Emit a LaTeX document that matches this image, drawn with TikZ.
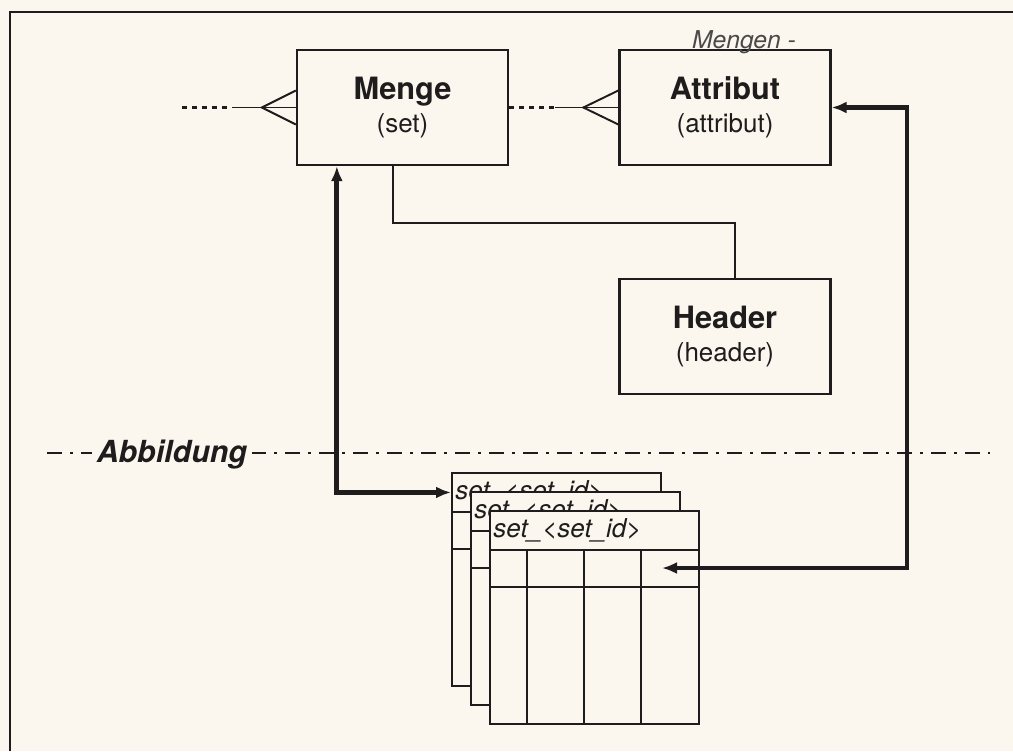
\documentclass[tikz,border=0pt]{standalone}
\usepackage{fontspec}
\setmainfont{TeX Gyre Heros}
\usetikzlibrary{positioning, arrows.meta, calc}
\definecolor{paper}{HTML}{FBF7EE}
\definecolor{ink}{HTML}{1E1C1C}

\begin{document}
\begin{tikzpicture}[x=0.2mm, y=-0.2mm, every node/.style={align=center, text=ink},
    entity/.style={rectangle, draw=ink, line width=1.3pt, minimum width=42.2mm, minimum height=23mm,
        font=\fontsize{14.8}{18.7}\selectfont},
    relline/.style={draw=ink, line width=1.1pt},
    optline/.style={draw=ink, line width=1.3pt, dash pattern=on 1mm off 1mm},
    mapline/.style={draw=ink, line width=2.8pt,
        {Latex[length=3mm,width=2.4mm]}-{Latex[length=3mm,width=2.4mm]}},
    sheet/.style={rectangle, draw=ink, fill=paper, line width=1.1pt, minimum width=41.8mm, minimum height=42.6mm},
    sheethead/.style={rectangle, draw=ink, line width=1.1pt, minimum width=41.8mm, minimum height=7.8mm,
        text width=40.4mm, inner xsep=0.7mm, align=left, font=\fontsize{14.8}{16}\selectfont\itshape}]

        % Paper and frame
        \fill[paper] (0,0) rectangle (1013,751);
        \useasboundingbox (0,0) rectangle (1013,751);
        \draw[ink, line width=1.1pt] (10,751) -- (10,12) -- (1013,12);

        % Entities
        \node (menge) [entity] at (402.5,107.5)
        {{\fontsize{17.5}{18.7}\selectfont\bfseries Menge}\\(set)};
        \node (attr) [entity] at (725,107.5)
        {{\fontsize{17.5}{18.7}\selectfont\bfseries Attribut}\\(attribut)};
        \node (header) [entity] at (725,336.5)
        {{\fontsize{17.5}{18.7}\selectfont\bfseries Header}\\(header)};

        % Handwritten note
        \node (note) [font=\fontsize{14}{14}\selectfont\itshape, text=ink!80] at (744,42) {Mengen -};

        % Crow's feet
        \draw[relline] (menge.west) -- ++(-64,0) coordinate (mtail);
        \draw[optline] (mtail) ++(-5,0) -- ++(-46,0);
        \draw[relline] (menge.west) ++(0,-17) -- ++(-34,17) -- ++(34,17);
        \draw[optline] (menge.east) -- ++(47,0);
        \draw[relline] (attr.west) -- ++(-63,0);
        \draw[relline] (attr.west) ++(0,-17) -- ++(-35,17) -- ++(35,17);

        % Menge to Header
        \draw[relline] ($(menge.south)+(-9.5,0)$) -- ++(0,57) -| ($(header.north)+(10,0)$);

        % Divider
        \coordinate (divw) at (47,453);
        \coordinate (dive) at (990,453);
        \draw[ink, line width=1.1pt, dash pattern=on 3mm off 1.6mm on 0.6mm off 1.6mm] (divw) -- (dive);
        \node (abb) [fill=paper, inner sep=3pt, font=\fontsize{17.3}{18}\selectfont\bfseries\itshape]
            at (172,455) {Abbildung};

        % Tables
        \foreach \i in {1,2,3} {
            \pgfmathtruncatemacro{\o}{19*(\i-1)}
            \node (tab\i) [sheet, anchor=north west] at (451+\o,472+\o) {};
            \node (ttl\i) [sheethead, anchor=north west] at (tab\i.north west) {set\_<set\_id>};
            \draw[relline] ([shift={(0,77)}]tab\i.north west) -- ([shift={(0,77)}]tab\i.north east);
            \foreach \c in {38,95,152}
                \draw[relline] ([shift={(\c,39)}]tab\i.north west) -- ([shift={(\c,0)}]tab\i.south west);
        }

        % Mapping arrows
        \coordinate (slot) at ([shift={(173,58)}]tab3.north west);
        \coordinate (bus) at (907,0);
        \draw[mapline] ([xshift=8.2mm]menge.south west) |- (ttl1.west);
        \draw[mapline] (attr.east) -| (bus |- slot) -- (slot);
    \end{tikzpicture}
\end{document}
